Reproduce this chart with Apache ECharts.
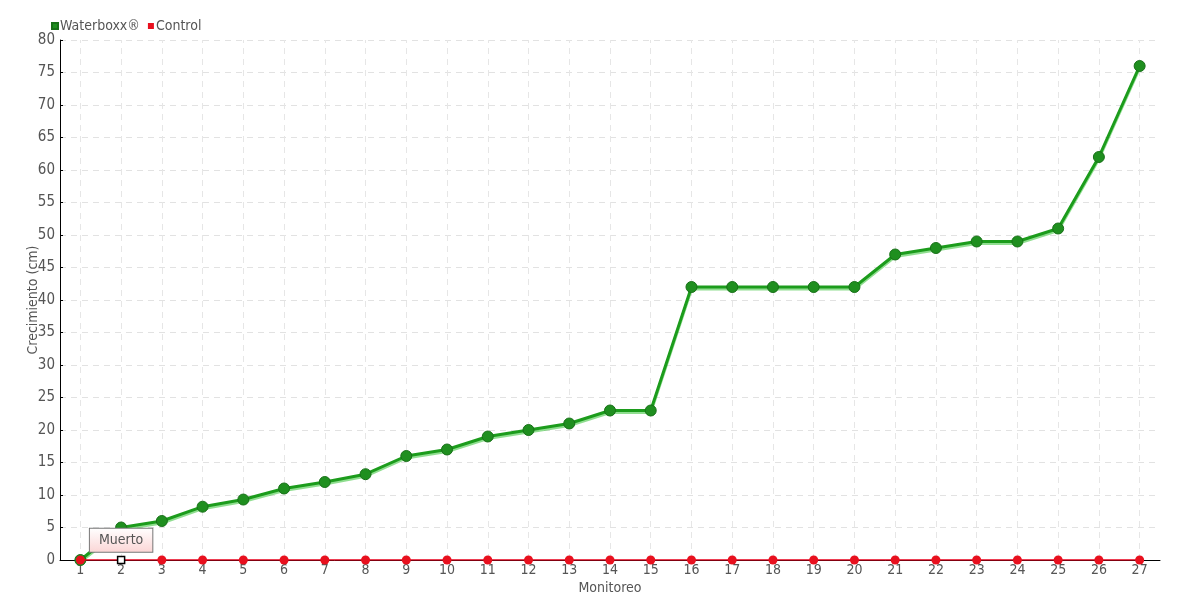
<!DOCTYPE html>
<html><head><meta charset="utf-8">
<script src="https://cdn.jsdelivr.net/npm/echarts@6/dist/echarts.min.js"></script>
<style>html,body{margin:0;padding:0;background:#fff}#c{width:1180px;height:600px}</style>
</head><body><div id="c"></div>
<script>
const categories = ['1','2','3','4','5','6','7','8','9','10','11','12','13','14','15','16','17','18','19','20','21','22','23','24','25','26','27'];
const waterboxx = [0,5,6,8.2,9.3,11,12,13.2,16,17,19,20,21,23,23,42,42,42,42,42,47,48,49,49,51,62,76];
const control = [0,0,0,0,0,0,0,0,0,0,0,0,0,0,0,0,0,0,0,0,0,0,0,0,0,0,0];
const yTicks = {min:0, max:80, interval:5};
const deadLabel = 'Muerto';
const deadIndex = 1;

const font = '"DejaVu Sans Condensed", "Liberation Sans Narrow", sans-serif';
const chart = echarts.init(document.getElementById('c'), null, {renderer:'canvas'});

const controlData = control.map((v,i)=> i===deadIndex ? {
  value: v, symbol:'rect', symbolSize:7,
  itemStyle:{color:'#fff', borderColor:'#000', borderWidth:1.5},
  label:{show:true, position:'top', distance:4, formatter:deadLabel,
    fontFamily:font, fontSize:14, color:'#555', padding:[5,9,4,9],
    borderColor:'#777', borderWidth:1,
    backgroundColor:{type:'linear',x:0,y:0,x2:0,y2:1,colorStops:[{offset:0,color:'#fff'},{offset:1,color:'#fbd5d5'}]}}
} : v);

chart.setOption({
  animation:false,
  textStyle:{fontFamily:font},
  legend:{left:46, top:14, itemWidth:6, itemHeight:6, itemGap:8, icon:'rect',
    textStyle:{fontFamily:font, fontSize:14, color:'#555', padding:[0,0,0,-3]},
    data:[{name:'Waterboxx®'},{name:'Control'}]},
  grid:{left:60, right:20, top:40, bottom:40},
  xAxis:{type:'category', data:categories, boundaryGap:true,
    name:'Monitoreo', nameLocation:'middle', nameGap:21, nameMoveOverlap:false,
    nameTextStyle:{fontFamily:font, fontSize:14, color:'#555'},
    axisLine:{lineStyle:{color:'#000', width:1}},
    axisTick:{show:false},
    axisLabel:{fontFamily:font, fontSize:14, color:'#555', margin:3},
    splitLine:{show:false}},
  yAxis:{type:'value', min:yTicks.min, max:yTicks.max, interval:yTicks.interval,
    name:'Crecimiento (cm)', nameLocation:'middle', nameGap:20, nameMoveOverlap:false,
    nameTextStyle:{fontFamily:font, fontSize:14, color:'#555'},
    axisLine:{show:true, lineStyle:{color:'#000', width:1}},
    axisTick:{show:true, inside:true, length:3, lineStyle:{color:'#000'}},
    axisLabel:{fontFamily:font, fontSize:15, color:'#555', margin:5},
    splitLine:{show:true, lineStyle:{color:'#e2e2e2', type:[6,5], width:1}}},
  series:[
    {name:'gridlines', type:'line', data:[], z:0, silent:true,
      markLine:{silent:true, z:0, zlevel:0, symbol:'none', label:{show:false}, animation:false,
        lineStyle:{color:'#e6e6e6', type:[6,5], width:1},
        data: categories.map(c=>({xAxis:c}))}},
    {name:'Waterboxx®', type:'line', data:waterboxx, symbol:'circle', symbolSize:11,
      lineStyle:{color:'#1c9c1c', width:3, shadowColor:'rgba(70,200,70,0.6)', shadowOffsetY:2, shadowBlur:0},
      itemStyle:{color:'#1f8f1f', borderColor:'#187018', borderWidth:1},
      z:6},
    {name:'Control', type:'line', data:controlData, symbol:'circle', symbolSize:9,
      lineStyle:{color:'#e8001c', width:1.5},
      itemStyle:{color:'#e8101e'}, z:7}
  ],
  color:['#e6e6e6','#1f9a1f','#e8101e']
});
</script></body></html>
